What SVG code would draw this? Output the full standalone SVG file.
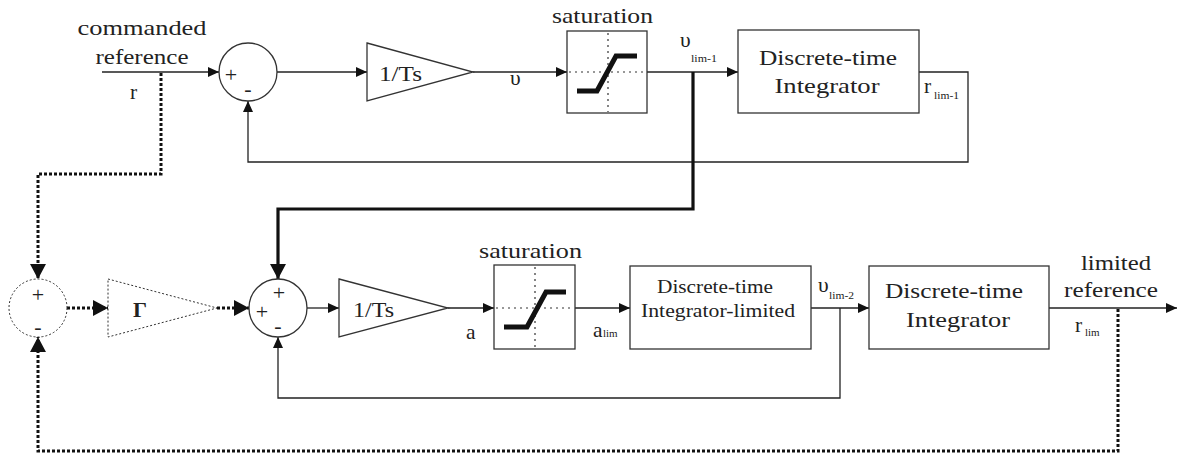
<svg xmlns="http://www.w3.org/2000/svg" width="1177" height="454" viewBox="0 0 1177 454">
  <style>
    text { font-family: "Liberation Serif", "Times New Roman", serif; fill: #222; }
    .lbl { font-size: 21.5px; }
    .sub { font-size: 11px; }
    .sign { font-size: 22px; text-anchor: middle; }
    .blk { fill: #fff; stroke: #333; stroke-width: 1.3; }
    .dblk { fill: #fff; stroke: #333; stroke-width: 1; stroke-dasharray: 2 2; }
    .ln { fill: none; stroke: #222; stroke-width: 1.3; }
    .thick { fill: none; stroke: #111; stroke-width: 3.2; }
    .dot { fill: none; stroke: #111; stroke-width: 3; stroke-dasharray: 3 2; }
    .grid { fill: none; stroke: #333; stroke-width: 1.2; stroke-dasharray: 2 4; }
    .curve { fill: none; stroke: #111; stroke-width: 5; stroke-linejoin: miter; }
  </style>
  <defs>
    <marker id="arr" markerUnits="userSpaceOnUse" markerWidth="11" markerHeight="10" refX="11" refY="5" orient="auto">
      <path d="M0,0 L11,5 L0,10 z" fill="#111"/>
    </marker>
    <marker id="arrBig" markerUnits="userSpaceOnUse" markerWidth="15" markerHeight="16" refX="15" refY="8" orient="auto">
      <path d="M0,0 L15,8 L0,16 z" fill="#111"/>
    </marker>
  </defs>

  <rect width="1177" height="454" fill="#fff"/>

  <!-- connectors -->
  <g id="connectors">
    <path class="ln" d="M102,72 H219" marker-end="url(#arr)"/>
    <path class="ln" d="M277,72 H367" marker-end="url(#arr)"/>
    <path class="ln" d="M473,72 H567" marker-end="url(#arr)"/>
    <path class="ln" d="M647,72 H738" marker-end="url(#arr)"/>
    <path class="ln" d="M919,72 H968 V162 H248 V101" marker-end="url(#arr)"/>
    <path class="thick" d="M693,72 V209 H278 V279" marker-end="url(#arrBig)"/>
    <path class="dot" d="M161,73 V174 H38 V279" marker-end="url(#arrBig)"/>
    <path class="dot" d="M67,308 H108" marker-end="url(#arrBig)"/>
    <path class="dot" d="M217,308 H249" marker-end="url(#arrBig)"/>
    <path class="ln" d="M307,308 H339" marker-end="url(#arr)"/>
    <path class="ln" d="M448,308 H494" marker-end="url(#arr)"/>
    <path class="ln" d="M575,308 H630" marker-end="url(#arr)"/>
    <path class="ln" d="M811,308 H869" marker-end="url(#arr)"/>
    <path class="ln" d="M840,308 V398 H278 V337" marker-end="url(#arr)"/>
    <path class="ln" d="M1049,308 H1177" marker-end="url(#arr)"/>
    <path class="dot" d="M1118,309 V451 H38 V337" marker-end="url(#arrBig)"/>
  </g>

  <!-- input labels -->
  <g id="input-label">
    <text class="lbl" x="142" y="35" text-anchor="middle" textLength="129" lengthAdjust="spacingAndGlyphs">commanded</text>
    <text class="lbl" x="142" y="64" text-anchor="middle" textLength="93" lengthAdjust="spacingAndGlyphs">reference</text>
    <text class="lbl" x="130" y="99">r</text>
  </g>

  <!-- upper loop -->
  <g id="sum1">
    <circle class="blk" cx="248" cy="72" r="29"/>
    <text class="sign" x="231" y="82">+</text>
    <text class="sign" x="248" y="96">-</text>
  </g>
  <g id="gain1">
    <polygon class="blk" points="367,43 473,72 367,101"/>
    <text class="lbl" x="379" y="81" textLength="43" lengthAdjust="spacingAndGlyphs">1/Ts</text>
  </g>
  <text class="lbl" x="510" y="85">υ</text>
  <g id="sat1">
    <text class="lbl" x="552" y="23" textLength="101" lengthAdjust="spacingAndGlyphs">saturation</text>
    <rect class="blk" x="567" y="31" width="80" height="82"/>
    <line class="grid" x1="608" y1="33" x2="608" y2="112"/>
    <line class="grid" x1="569" y1="72" x2="646" y2="72"/>
    <polyline class="curve" points="577,91 597,91 616,56 637,56"/>
  </g>
  <g id="vlim1-label">
    <text class="lbl" x="680" y="47">υ</text>
    <text class="sub" x="691" y="62" textLength="26" lengthAdjust="spacingAndGlyphs">lim-1</text>
  </g>
  <g id="integrator1">
    <rect class="blk" x="738" y="30" width="181" height="83"/>
    <text class="lbl" x="828" y="65" text-anchor="middle" textLength="138" lengthAdjust="spacingAndGlyphs">Discrete-time</text>
    <text class="lbl" x="827" y="93" text-anchor="middle" textLength="105" lengthAdjust="spacingAndGlyphs">Integrator</text>
  </g>
  <g id="rlim1-label">
    <text class="lbl" x="924" y="93">r</text>
    <text class="sub" x="934" y="99" textLength="25" lengthAdjust="spacingAndGlyphs">lim-1</text>
  </g>

  <!-- lower loop -->
  <g id="sum3">
    <circle class="dblk" cx="38" cy="308" r="29"/>
    <text class="sign" x="38" y="302">+</text>
    <text class="sign" x="38" y="334">-</text>
  </g>
  <g id="gamma">
    <polygon class="dblk" points="108,279 217,308 108,337"/>
    <text x="133" y="317" font-size="22" font-weight="bold">Γ</text>
  </g>
  <g id="sum2">
    <circle class="blk" cx="278" cy="308" r="29"/>
    <text class="sign" x="279" y="300">+</text>
    <text class="sign" x="262" y="319">+</text>
    <text class="sign" x="278" y="333">-</text>
  </g>
  <g id="gain2">
    <polygon class="blk" points="339,279 448,308 339,337"/>
    <text class="lbl" x="353" y="317" textLength="41" lengthAdjust="spacingAndGlyphs">1/Ts</text>
  </g>
  <text class="lbl" x="466" y="339">a</text>
  <g id="sat2">
    <text class="lbl" x="479" y="258" textLength="103" lengthAdjust="spacingAndGlyphs">saturation</text>
    <rect class="blk" x="494" y="265" width="81" height="84"/>
    <line class="grid" x1="535" y1="267" x2="535" y2="348"/>
    <line class="grid" x1="496" y1="308" x2="574" y2="308"/>
    <polyline class="curve" points="504,327 527,327 546,292 566,292"/>
  </g>
  <g id="alim-label">
    <text class="lbl" x="593" y="337">a</text>
    <text class="sub" x="603" y="337">lim</text>
  </g>
  <g id="integrator-limited">
    <rect class="blk" x="630" y="266" width="181" height="83"/>
    <text x="715" y="293" font-size="18" text-anchor="middle" textLength="116" lengthAdjust="spacingAndGlyphs">Discrete-time</text>
    <text x="718" y="317" font-size="18" text-anchor="middle" textLength="154" lengthAdjust="spacingAndGlyphs">Integrator-limited</text>
  </g>
  <g id="vlim2-label">
    <text class="lbl" x="818" y="292">υ</text>
    <text class="sub" x="829" y="299" textLength="25" lengthAdjust="spacingAndGlyphs">lim-2</text>
  </g>
  <g id="integrator2">
    <rect class="blk" x="869" y="266" width="180" height="83"/>
    <text class="lbl" x="954" y="298" text-anchor="middle" textLength="138" lengthAdjust="spacingAndGlyphs">Discrete-time</text>
    <text class="lbl" x="958" y="327" text-anchor="middle" textLength="104" lengthAdjust="spacingAndGlyphs">Integrator</text>
  </g>
  <g id="output-label">
    <text class="lbl" x="1116" y="270" text-anchor="middle" textLength="70" lengthAdjust="spacingAndGlyphs">limited</text>
    <text class="lbl" x="1111" y="297" text-anchor="middle" textLength="94" lengthAdjust="spacingAndGlyphs">reference</text>
    <text class="lbl" x="1075" y="332">r</text>
    <text class="sub" x="1085" y="336">lim</text>
  </g>
</svg>
